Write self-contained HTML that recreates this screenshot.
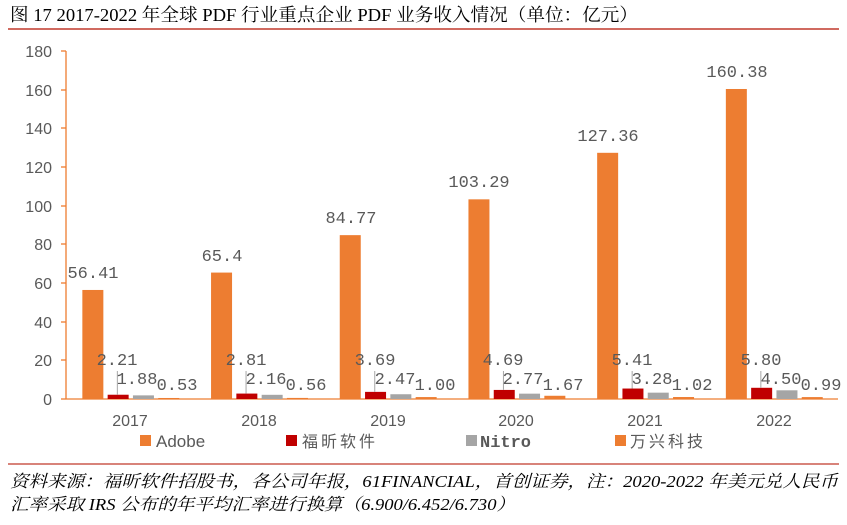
<!DOCTYPE html>
<html><head><meta charset="utf-8"><style>
body{margin:0;background:#fff;width:847px;height:525px;overflow:hidden}
svg{display:block}
</style></head><body>
<svg width="847" height="525" viewBox="0 0 847 525" xmlns="http://www.w3.org/2000/svg">
<text x="10" y="21" font-family="Liberation Serif, Noto Serif CJK SC, serif" font-size="18" fill="#000" textLength="628" lengthAdjust="spacingAndGlyphs">图 17 2017-2022 年全球 PDF 行业重点企业 PDF 业务收入情况（单位：亿元）</text>
<line x1="8" y1="29" x2="839" y2="29" stroke="#c0392b" stroke-width="1.5"/>
<g font-family="Liberation Sans, sans-serif" font-size="16" fill="#595959" text-anchor="end">
<text x="52" y="57">180</text><text x="52" y="96">160</text><text x="52" y="134">140</text>
<text x="52" y="173">120</text><text x="52" y="212">100</text><text x="52" y="250">80</text>
<text x="52" y="289">60</text><text x="52" y="328">40</text><text x="52" y="366">20</text><text x="52" y="405">0</text>
</g>
<g stroke="#ed7d31" stroke-width="1.3">
<line x1="66" y1="51" x2="66" y2="399"/><line x1="66" y1="399" x2="838" y2="399"/>
<line x1="61" y1="51" x2="66" y2="51"/><line x1="61" y1="90" x2="66" y2="90"/><line x1="61" y1="128" x2="66" y2="128"/>
<line x1="61" y1="167" x2="66" y2="167"/><line x1="61" y1="206" x2="66" y2="206"/><line x1="61" y1="244" x2="66" y2="244"/>
<line x1="61" y1="283" x2="66" y2="283"/><line x1="61" y1="322" x2="66" y2="322"/><line x1="61" y1="360" x2="66" y2="360"/>
<line x1="61" y1="399" x2="66" y2="399"/>
</g>
<g>
<rect x="82.35" y="289.96" width="21" height="109.04" fill="#ed7d31"/>
<rect x="107.65" y="394.73" width="21" height="4.27" fill="#c00000"/>
<rect x="132.95" y="395.37" width="21" height="3.63" fill="#a5a5a5"/>
<rect x="158.25" y="397.98" width="21" height="1.02" fill="#ed7d31"/>

<rect x="211.05" y="272.58" width="21" height="126.42" fill="#ed7d31"/>
<rect x="236.35" y="393.57" width="21" height="5.43" fill="#c00000"/>
<rect x="261.65" y="394.82" width="21" height="4.18" fill="#a5a5a5"/>
<rect x="286.95" y="397.92" width="21" height="1.08" fill="#ed7d31"/>

<rect x="339.75" y="235.14" width="21" height="163.86" fill="#ed7d31"/>
<rect x="365.05" y="391.87" width="21" height="7.13" fill="#c00000"/>
<rect x="390.35" y="394.23" width="21" height="4.77" fill="#a5a5a5"/>
<rect x="415.65" y="397.07" width="21" height="1.93" fill="#ed7d31"/>

<rect x="468.45" y="199.34" width="21" height="199.66" fill="#ed7d31"/>
<rect x="493.75" y="389.93" width="21" height="9.07" fill="#c00000"/>
<rect x="519.05" y="393.65" width="21" height="5.35" fill="#a5a5a5"/>
<rect x="544.35" y="395.77" width="21" height="3.23" fill="#ed7d31"/>

<rect x="597.15" y="152.81" width="21" height="246.19" fill="#ed7d31"/>
<rect x="622.45" y="388.54" width="21" height="10.46" fill="#c00000"/>
<rect x="647.75" y="392.66" width="21" height="6.34" fill="#a5a5a5"/>
<rect x="673.05" y="397.03" width="21" height="1.97" fill="#ed7d31"/>

<rect x="725.85" y="88.99" width="21" height="310.01" fill="#ed7d31"/>
<rect x="751.15" y="387.79" width="21" height="11.21" fill="#c00000"/>
<rect x="776.45" y="390.3" width="21" height="8.7" fill="#a5a5a5"/>
<rect x="801.75" y="397.09" width="21" height="1.91" fill="#ed7d31"/>
</g>
<g stroke="#a6a6a6" stroke-width="1">
<line x1="117.35" y1="371" x2="117.35" y2="394.7"/>
<line x1="246.05" y1="371" x2="246.05" y2="393.6"/>
<line x1="374.75" y1="371" x2="374.75" y2="391.9"/>
<line x1="503.45" y1="371" x2="503.45" y2="389.9"/>
<line x1="632.15" y1="371" x2="632.15" y2="388.5"/>
<line x1="760.85" y1="371" x2="760.85" y2="387.8"/>
</g>
<g font-family="Liberation Mono, monospace" font-size="17" fill="#595959" text-anchor="middle">
<text x="93" y="278">56.41</text><text x="117" y="365">2.21</text><text x="137" y="384">1.88</text><text x="177" y="390">0.53</text>
<text x="222" y="261">65.4</text><text x="246" y="365">2.81</text><text x="266" y="384">2.16</text><text x="306" y="390">0.56</text>
<text x="351" y="223">84.77</text><text x="375" y="365">3.69</text><text x="395" y="384">2.47</text><text x="435" y="390">1.00</text>
<text x="479" y="187">103.29</text><text x="503" y="365">4.69</text><text x="523" y="384">2.77</text><text x="563" y="390">1.67</text>
<text x="608" y="141">127.36</text><text x="632" y="365">5.41</text><text x="652" y="384">3.28</text><text x="692" y="390">1.02</text>
<text x="737" y="77">160.38</text><text x="761" y="365">5.80</text><text x="781" y="384">4.50</text><text x="821" y="390">0.99</text>
</g>
<g font-family="Liberation Sans, sans-serif" font-size="16" fill="#595959" text-anchor="middle">
<text x="130" y="426">2017</text><text x="259" y="426">2018</text><text x="388" y="426">2019</text>
<text x="516" y="426">2020</text><text x="645" y="426">2021</text><text x="774" y="426">2022</text>
</g>
<g font-family="Liberation Sans, sans-serif" font-size="16" fill="#595959">
<rect x="140" y="435" width="11" height="11" fill="#ed7d31"/><text x="156" y="447" font-size="17">Adobe</text>
<rect x="286" y="435" width="11" height="11" fill="#c00000"/><text x="302" y="447" font-family="Noto Sans CJK SC, sans-serif" letter-spacing="3">福昕软件</text>
<rect x="466" y="435" width="11" height="11" fill="#a5a5a5"/><text x="480" y="447" font-family="Liberation Mono, monospace" font-weight="bold" font-size="17">Nitro</text>
<rect x="615" y="435" width="11" height="11" fill="#ed7d31"/><text x="630" y="447" font-family="Noto Sans CJK SC, sans-serif" letter-spacing="3">万兴科技</text>
</g>
<line x1="8" y1="464" x2="839" y2="464" stroke="#c0392b" stroke-width="1.3"/>
<g font-family="Liberation Serif, Noto Serif CJK SC, serif" font-size="17" font-style="italic" fill="#000">
<text x="10" y="487" textLength="828" lengthAdjust="spacingAndGlyphs">资料来源：福昕软件招股书，各公司年报，61FINANCIAL，首创证券，注：2020-2022 年美元兑人民币</text>
<text x="10" y="510" textLength="505" lengthAdjust="spacingAndGlyphs">汇率采取 IRS 公布的年平均汇率进行换算（6.900/6.452/6.730）</text>
</g>
</svg>
</body></html>
